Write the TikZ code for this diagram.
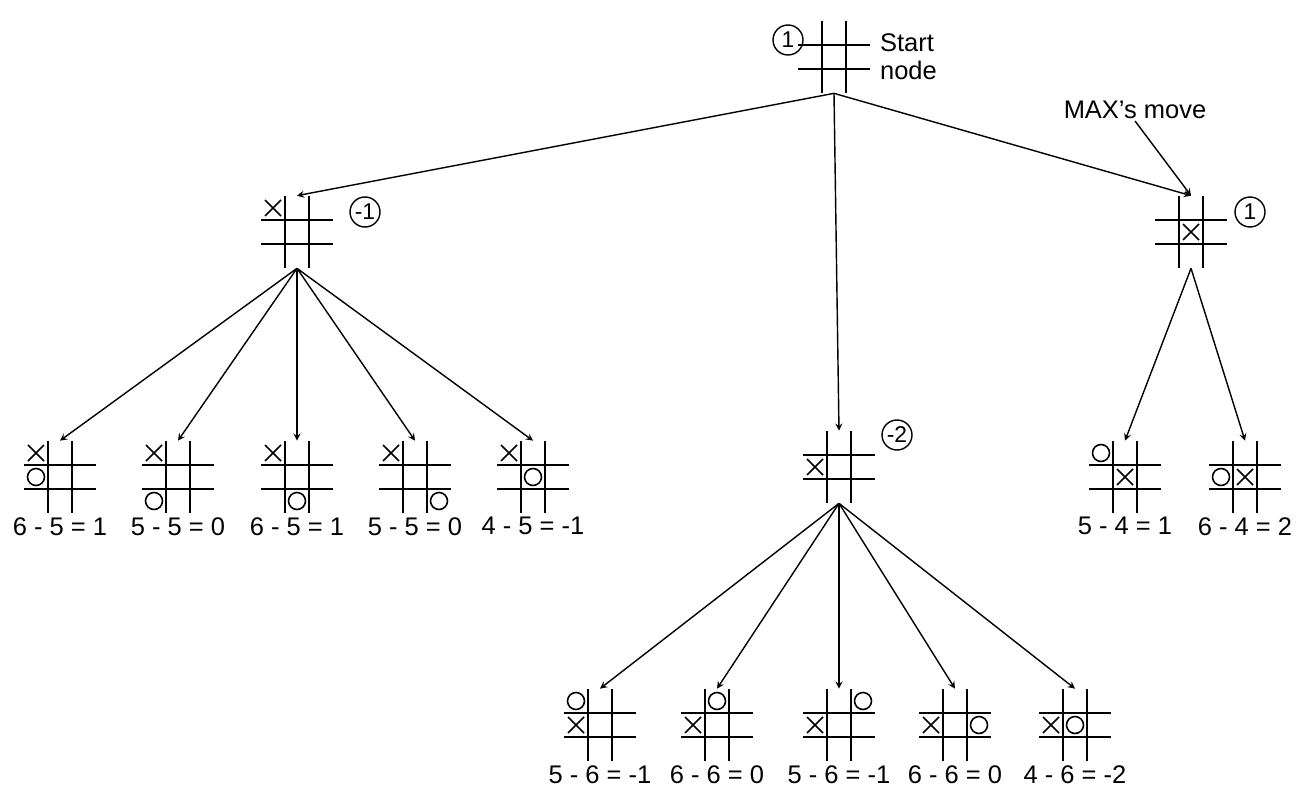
\documentclass[tikz,border=0pt]{standalone}
\usepackage{fontspec}
\setmainfont{Liberation Sans}
\usetikzlibrary{arrows,positioning,calc}

% board: name, x, y, cells with X, cells with O
\newcommand{\tttboard}[5]{%
  \node (#1) [board] at (#2,#3) {};
  \draw [grid] ($(#1)+(-12,-36)$) -- ($(#1)+(-12,36)$);
  \draw [grid] ($(#1)+(12,-36)$) -- ($(#1)+(12,36)$);
  \draw [grid] ($(#1)+(-36,-12)$) -- ($(#1)+(36,-12)$);
  \draw [grid] ($(#1)+(-36,12)$) -- ($(#1)+(36,12)$);
  \foreach \i/\j in {#4} {
    \draw [piece] ($(#1)+(\i*24-8,\j*24-8)$) -- ($(#1)+(\i*24+8,\j*24+8)$);
    \draw [piece] ($(#1)+(\i*24-8,\j*24+8)$) -- ($(#1)+(\i*24+8,\j*24-8)$);
  }
  \foreach \i/\j in {#5} {
    \draw [piece] ($(#1)+(\i*24,\j*24)$) circle (8.5);
  }
}

\begin{document}
\begin{tikzpicture}[x=0.02cm, y=-0.02cm]

% Define styles
\tikzstyle{board} = [rectangle, minimum size=1.44cm, inner sep=0pt]
\tikzstyle{grid} = [line width=1.1pt, draw=black]
\tikzstyle{piece} = [line width=0.9pt, draw=black]
\tikzstyle{value} = [circle, draw=black, line width=0.8pt, minimum size=0.6cm, inner sep=0pt, font=\fontsize{13}{15}\selectfont]
\tikzstyle{score} = [font=\fontsize{14.5}{16}\selectfont, inner sep=1pt]
\tikzstyle{arrow} = [line width=0.8pt, ->, >=stealth]

\useasboundingbox (0,0) rectangle (1305,797);

% Start node
\tttboard{root}{834}{57}{}{}
\node (v_root) [value] at (788,40) {1};
\node (start) [score, align=left, anchor=west] at (878,57) {Start\\node};

% MAX's first moves
\tttboard{corner}{297}{232}{-1/-1}{}
\node (v_corner) [value] at (365,212) {-1};
\tttboard{edge}{839}{467}{-1/0}{}
\node (v_edge) [value] at (897,435) {-2};
\tttboard{centre}{1191}{232}{0/0}{}
\node (v_centre) [value] at (1250,212) {1};

\node (maxmove) [score] at (1135,110) {MAX's move};
\draw [arrow] (maxmove.south) -- (centre.north);

\draw [arrow] (root.south) -- (corner.north);
\draw [arrow] (root.south) -- (edge.north);
\draw [arrow] (root.south) -- (centre.north);

% Replies to the corner move
\tttboard{c1}{60}{477}{-1/-1}{-1/0}
\tttboard{c2}{178}{477}{-1/-1}{-1/1}
\tttboard{c3}{297}{477}{-1/-1}{0/1}
\tttboard{c4}{415}{477}{-1/-1}{1/1}
\tttboard{c5}{533}{477}{-1/-1}{0/0}
\node (s_c1) [score, below=1pt of c1] {6 - 5 = 1};
\node (s_c2) [score, below=1pt of c2] {5 - 5 = 0};
\node (s_c3) [score, below=1pt of c3] {6 - 5 = 1};
\node (s_c4) [score, below=1pt of c4] {5 - 5 = 0};
\node (s_c5) [score, below=1pt of c5] {4 - 5 = -1};
\foreach \n in {c1,c2,c3,c4,c5}
  \draw [arrow] (corner.south) -- (\n.north);

% Replies to the centre move
\tttboard{m1}{1125}{477}{0/0}{-1/-1}
\tttboard{m2}{1245}{477}{0/0}{-1/0}
\node (s_m1) [score, below=1pt of m1] {5 - 4 = 1};
\node (s_m2) [score, below=1pt of m2] {6 - 4 = 2};
\foreach \n in {m1,m2}
  \draw [arrow] (centre.south) -- (\n.north);

% Replies to the edge move
\tttboard{e1}{600}{725}{-1/0}{-1/-1}
\tttboard{e2}{717}{725}{-1/0}{0/-1}
\tttboard{e3}{839}{725}{-1/0}{1/-1}
\tttboard{e4}{955}{725}{-1/0}{1/0}
\tttboard{e5}{1075}{725}{-1/0}{0/0}
\node (s_e1) [score, below=1pt of e1] {5 - 6 = -1};
\node (s_e2) [score, below=1pt of e2] {6 - 6 = 0};
\node (s_e3) [score, below=1pt of e3] {5 - 6 = -1};
\node (s_e4) [score, below=1pt of e4] {6 - 6 = 0};
\node (s_e5) [score, below=1pt of e5] {4 - 6 = -2};
\foreach \n in {e1,e2,e3,e4,e5}
  \draw [arrow] (edge.south) -- (\n.north);

\end{tikzpicture}
\end{document}
